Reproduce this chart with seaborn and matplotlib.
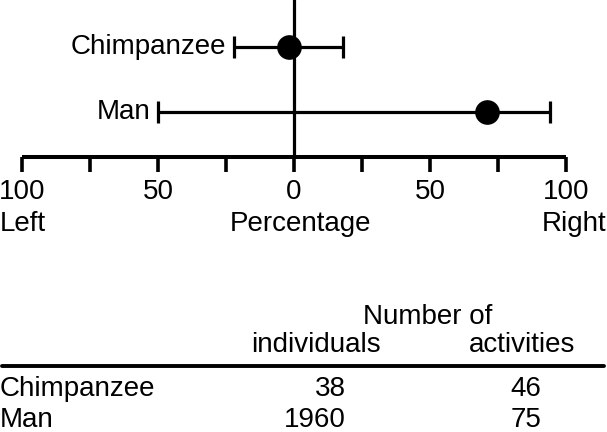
import matplotlib
matplotlib.use("Agg")
import matplotlib.pyplot as plt
import seaborn as sns
import pandas as pd
from matplotlib.ticker import FixedLocator

species = ["Chimpanzee", "Man"]
mean_pct = [-2, 71]
low_pct = [-22, -50]
high_pct = [18, 94]
n_individuals = [38, 1960]
n_activities = [46, 75]
major_ticks = [-100, -50, 0, 50, 100]
major_labels = ["100", "50", "0", "50", "100"]
minor_ticks = [-75, -25, 25, 75]

sns.set_theme(style="white")
plt.rcParams['font.family'] = ['Liberation Sans', 'DejaVu Sans']
plt.rcParams['text.color'] = 'black'
plt.rcParams['xtick.color'] = 'black'
FS = 20

df = pd.DataFrame({"species": species, "mean": mean_pct, "low": low_pct,
                   "high": high_pct, "pos": [0, 1]})

W, H = 607, 432
fig = plt.figure(figsize=(W / 100, H / 100), dpi=100)
ax = fig.add_axes([22 / W, 1 - 157 / H, (566 - 22) / W, 157 / H])

lw = 2.3
ax.errorbar(df["mean"], df["pos"],
            xerr=[df["mean"] - df["low"], df["high"] - df["mean"]],
            fmt="none", ecolor="black", elinewidth=lw, capsize=7.6, capthick=lw, zorder=2)
sns.scatterplot(data=df, x="mean", y="pos", ax=ax, s=270, color="black",
                edgecolor="black", zorder=3, legend=False)
ax.axvline(0, color="black", lw=lw, zorder=1)

for _, r in df.iterrows():
    ax.text(r["low"] - 2.8, r["pos"], r["species"], ha="right", va="center",
            fontsize=FS, color="black")

ax.set_xlim(-100, 100)
ax.set_ylim((157 - 47) / 65, -47 / 65)
ax.set_xlabel("")
ax.set_ylabel("")
ax.set_yticks([])
for s in ["left", "right", "top"]:
    ax.spines[s].set_visible(False)
ax.spines["bottom"].set_linewidth(2.9)
ax.spines["bottom"].set_color("black")
ax.spines["bottom"].set_capstyle("butt")
ax.xaxis.set_major_locator(FixedLocator(major_ticks))
ax.xaxis.set_minor_locator(FixedLocator(minor_ticks))
ax.set_xticklabels(major_labels)
ax.tick_params(axis="x", which="both", bottom=True, direction="out", length=11,
               width=2.6, color="black", labelsize=FS, pad=5, labelcolor="black")
ax.tick_params(axis="x", which="minor", labelbottom=False)
ax.patch.set_alpha(0)

fig.text(0 / W, 1 - 224 / H, "Left", ha="left", va="center", fontsize=FS)
fig.text(300 / W, 1 - 224 / H, "Percentage", ha="center", va="center", fontsize=FS)
fig.text(606 / W, 1 - 224 / H, "Right", ha="right", va="center", fontsize=FS)

# table
fig.text(428 / W, 1 - 317 / H, "Number of", ha="center", va="center", fontsize=FS)
fig.text(316 / W, 1 - 345 / H, "individuals", ha="center", va="center", fontsize=FS)
fig.text(522 / W, 1 - 345 / H, "activities", ha="center", va="center", fontsize=FS)
fig.add_artist(plt.Line2D([2 / W, 604 / W], [1 - 366 / H, 1 - 366 / H],
                          color="black", lw=2.8, transform=fig.transFigure))
row_y = [389, 420]
for i, sp in enumerate(species):
    y = 1 - row_y[i] / H
    fig.text(0 / W, y, sp, ha="left", va="center", fontsize=FS)
    fig.text(346 / W, y, str(n_individuals[i]), ha="right", va="center", fontsize=FS)
    fig.text(541 / W, y, str(n_activities[i]), ha="right", va="center", fontsize=FS)

fig.savefig("out.png", dpi=100, facecolor="white")
